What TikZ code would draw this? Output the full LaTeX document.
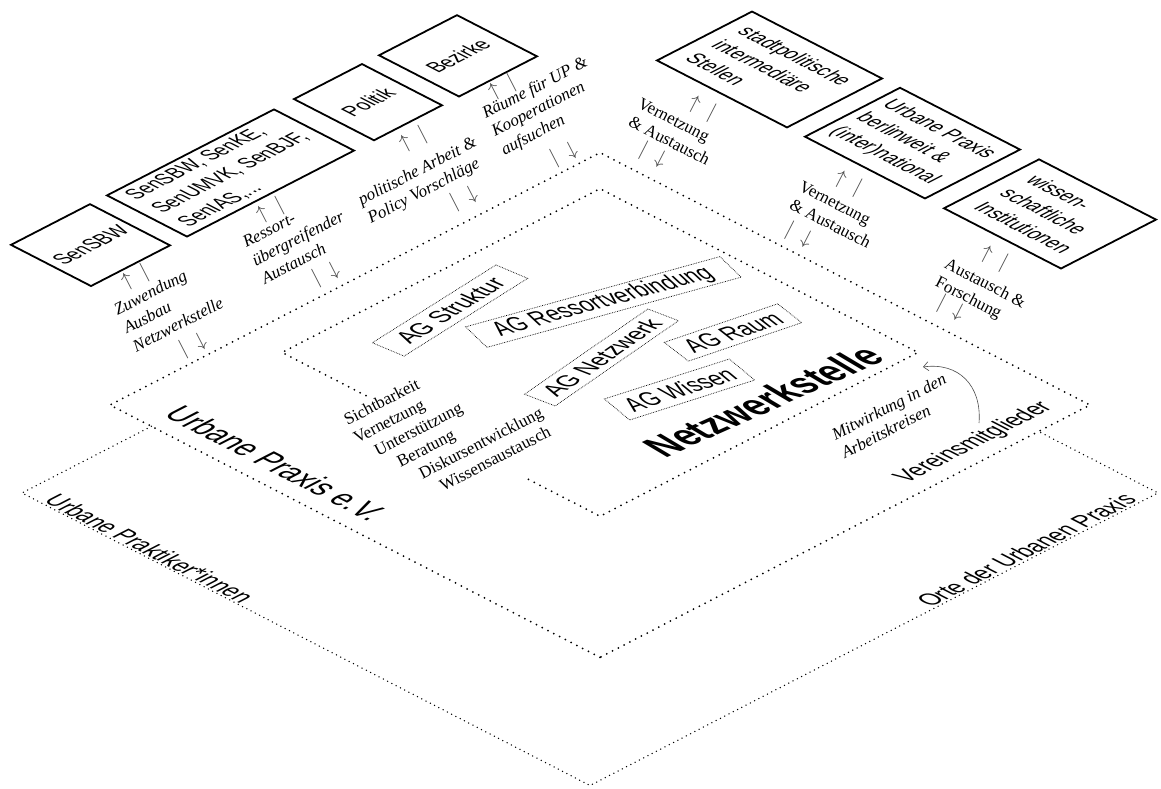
\documentclass[tikz,border=0pt]{standalone}
\usepackage{fontspec}
\setmainfont{Liberation Serif}
\setsansfont{Liberation Sans}
\usepackage{tikz}
\usetikzlibrary{arrows.meta}

\begin{document}
\begin{tikzpicture}[
    x=1pt, y=1pt,
    orgbox/.style = {draw, line width=1.8pt, transform shape, inner sep=0pt},
    agbox/.style = {draw, densely dotted, line width=0.7pt, transform shape, inner sep=0pt},
    boxtext/.style = {align=left, inner sep=0pt, font=\sffamily\fontsize{18.5}{24}\selectfont},
    agtext/.style = {inner sep=0pt, font=\sffamily\fontsize{22}{24}\selectfont},
    planetext/.style = {inner sep=0pt, font=\sffamily\fontsize{21.5}{24}\selectfont},
    alongA/.style = {rotate=27.25, xslant=-0.713},
    alongD/.style = {rotate=-27.25, xslant=0.713},
    leftnote/.style = {
        align=left, inner sep=0pt, anchor=north west, rotate=27.25,
        font=\itshape\fontsize{17}{20.5}\selectfont
    },
    rightnote/.style = {
        align=left, inner sep=0pt, anchor=north west, rotate=-27.25,
        font=\fontsize{17}{20.5}\selectfont
    },
    flowsign/.style = {inner sep=0pt, text=black!70, font=\fontsize{22}{22}\selectfont},
    bigdots/.style = {line width=2pt, line cap=round, dash pattern=on 0pt off 6.5pt},
    finedots/.style = {line width=1.5pt, line cap=round, dash pattern=on 0pt off 4.8pt},
    mitarrow/.style = {-{Straight Barb[length=5pt,width=9pt]}, line width=0.6pt, draw=black!70}
]
\useasboundingbox (0,-789) rectangle (1161,0);

% Ground plane (isometric)
\begin{scope}[shift={(600,-405)}, cm={1,0.515,-1,0.515,(0,0)}]

% Rings
\draw[finedots] (-245,203.6) -- (-374.4,203.6) -- (-374.4,-364.4)
    -- (193.6,-364.4) -- (193.6,-245);
\draw[bigdots] (-245,-245) -- (-245,245) -- (245,245) -- (245,-245) -- cycle;
\draw[bigdots] (-108,126) -- (-108,210) -- (210,210) -- (210,-108)
    -- (-108,-108) -- (-108,-36);

% Ring names
\node[planetext, font=\sffamily\fontsize{28}{30}\selectfont, alongD] (upev) at (-218.5,105) {Urbane Praxis e.V.};
\node[planetext, alongD] (praktiker) at (-364.3,85.7) {Urbane Praktiker*innen};
\node[planetext, alongA] (orte) at (72.2,-353.8) {Orte der Urbanen Praxis};
\node[planetext, alongA] (verein) at (150.6,-223.4) {Vereinsmitglieder};
\node[planetext, font=\sffamily\bfseries\fontsize{35}{37}\selectfont, rotate=24, xslant=-0.708] (nws) at (85.4,-77.6) {Netzwerkstelle};

% Working groups
\node[agbox, rotate=5.7, minimum width=138pt, minimum height=29pt] (agstruktur) at (16.7,166.7) {};
\node[agbox, rotate=-16.8, minimum width=204pt, minimum height=32pt] (agressort) at (101.7,98.3) {};
\node[agbox, rotate=8.3, minimum width=146pt, minimum height=27pt] (agnetz) at (46.9,45.4) {};
\node[agbox, rotate=-11.6, minimum width=96pt, minimum height=31pt] (agraum) at (136.9,3.9) {};
\node[agbox, rotate=-13.2, minimum width=104pt, minimum height=34pt] (agwissen) at (54.8,-24.7) {};

% Partners left
\node[orgbox, minimum width=79pt, minimum height=80pt] (sensbw) at (-99.5,410) {};
\node[orgbox, minimum width=167pt, minimum height=80pt] (senall) at (40.5,410) {};
\node[orgbox, minimum width=68pt, minimum height=80pt] (politik) at (178,410) {};
\node[orgbox, minimum width=78pt, minimum height=80pt] (bezirke) at (268,410) {};

% Partners right
\node[orgbox, minimum width=95pt, minimum height=130pt] (stadtpol) at (410.5,241) {};
\node[orgbox, minimum width=95pt, minimum height=120pt] (upraxis) at (410.5,98) {};
\node[orgbox, minimum width=95pt, minimum height=117pt] (wissinst) at (410.5,-39.5) {};

\end{scope}

% Box texts
\node[boxtext, alongA] (sensbw-txt) at (sensbw.center) {SenSBW};
\node[boxtext, alongA] (senall-txt) at (senall.center) {SenSBW, SenKE,\\SenUMVK, SenBJF,\\SenIAS,...};
\node[boxtext, alongA] (politik-txt) at (politik.center) {Politik};
\node[boxtext, alongA] (bezirke-txt) at (bezirke.center) {Bezirke};
\node[boxtext, alongD] (stadtpol-txt) at (stadtpol.center) {stadtpolitische\\intermediäre\\Stellen};
\node[boxtext, alongD] (upraxis-txt) at (upraxis.center) {Urbane Praxis\\berlinweit \&\\(inter)national};
\node[boxtext, alongD] (wissinst-txt) at (wissinst.center) {wissen-\\schaftliche\\Institutionen};

\node[agtext, rotate=32.2, xslant=-0.675] (agstruktur-txt) at (agstruktur.center) {AG Struktur};
\node[agtext, rotate=15.4, xslant=-0.615] (agressort-txt) at (agressort.center) {AG Ressortverbindung};
\node[agtext, rotate=34.7, xslant=-0.68] (agnetz-txt) at (agnetz.center) {AG Netzwerk};
\node[agtext, rotate=18.7, xslant=-0.654] (agraum-txt) at (agraum.center) {AG Raum};
\node[agtext, rotate=17.7, xslant=-0.64] (agwissen-txt) at (agwissen.center) {AG Wissen};

% Exchange notes left
\node[leftnote] (zuw) at (112,-305) {Zuwendung\\Ausbau\\Netzwerkstelle};
\node[leftnote] (ressort) at (241,-238) {Ressort-\\übergreifender\\Austausch};
\node[leftnote] (politarb) at (356,-195) {politische Arbeit \&\\Policy Vorschläge};
\node[leftnote] (raeume) at (480,-108) {Räume für UP \&\\Kooperationen\\aufsuchen};

\node[flowsign, rotate=27.25] (zuw-in) at (135,-278) {$\uparrow\ |$};
\node[flowsign, rotate=27.25] (zuw-out) at (193,-345) {$|\ \downarrow$};
\node[flowsign, rotate=27.25] (ressort-in) at (270,-211) {$\uparrow\ |$};
\node[flowsign, rotate=27.25] (ressort-out) at (326,-274) {$|\ \downarrow$};
\node[flowsign, rotate=27.25] (politarb-in) at (413,-140) {$\uparrow\ |$};
\node[flowsign, rotate=27.25] (politarb-out) at (464,-198) {$|\ \downarrow$};
\node[flowsign, rotate=27.25] (raeume-in) at (502,-88) {$\uparrow\ |$};
\node[flowsign, rotate=27.25] (raeume-out) at (564,-154) {$|\ \downarrow$};

% Exchange notes right
\node[rightnote] (vern1) at (642,-97) {Vernetzung\\\& Austausch};
\node[rightnote] (vern2) at (803,-180) {Vernetzung\\\& Austausch};
\node[rightnote] (forsch) at (949,-257) {Austausch \&\\Forschung};

\node[flowsign, rotate=-27.25] (vern1-in) at (702,-108) {$\uparrow\ |$};
\node[flowsign, rotate=-27.25] (vern1-out) at (653,-155) {$|\ \downarrow$};
\node[flowsign, rotate=-27.25] (vern2-in) at (848,-183) {$\uparrow\ |$};
\node[flowsign, rotate=-27.25] (vern2-out) at (799,-235) {$|\ \downarrow$};
\node[flowsign, rotate=-27.25] (forsch-in) at (994,-258) {$\uparrow\ |$};
\node[flowsign, rotate=-27.25] (forsch-out) at (951,-308) {$|\ \downarrow$};

% Services and members
\node[leftnote, font=\fontsize{17}{20.5}\selectfont] (leistung) at (342,-415)
    {Sichtbarkeit\\Vernetzung\\\hspace*{13pt}Unterstützung\\\hspace*{28pt}Beratung\\\hspace*{42pt}Diskursentwicklung\\\hspace*{55pt}Wissensaustausch};
\node[leftnote] (mitwirk) at (830,-430) {Mitwirkung in den\\Arbeitskreisen};

\coordinate (mw-from) at (979,-423);
\coordinate (mw-to) at (923,-367);
\draw[mitarrow] (mw-from) .. controls (982,-385) and (958,-362) .. (mw-to);

\end{tikzpicture}
\end{document}
